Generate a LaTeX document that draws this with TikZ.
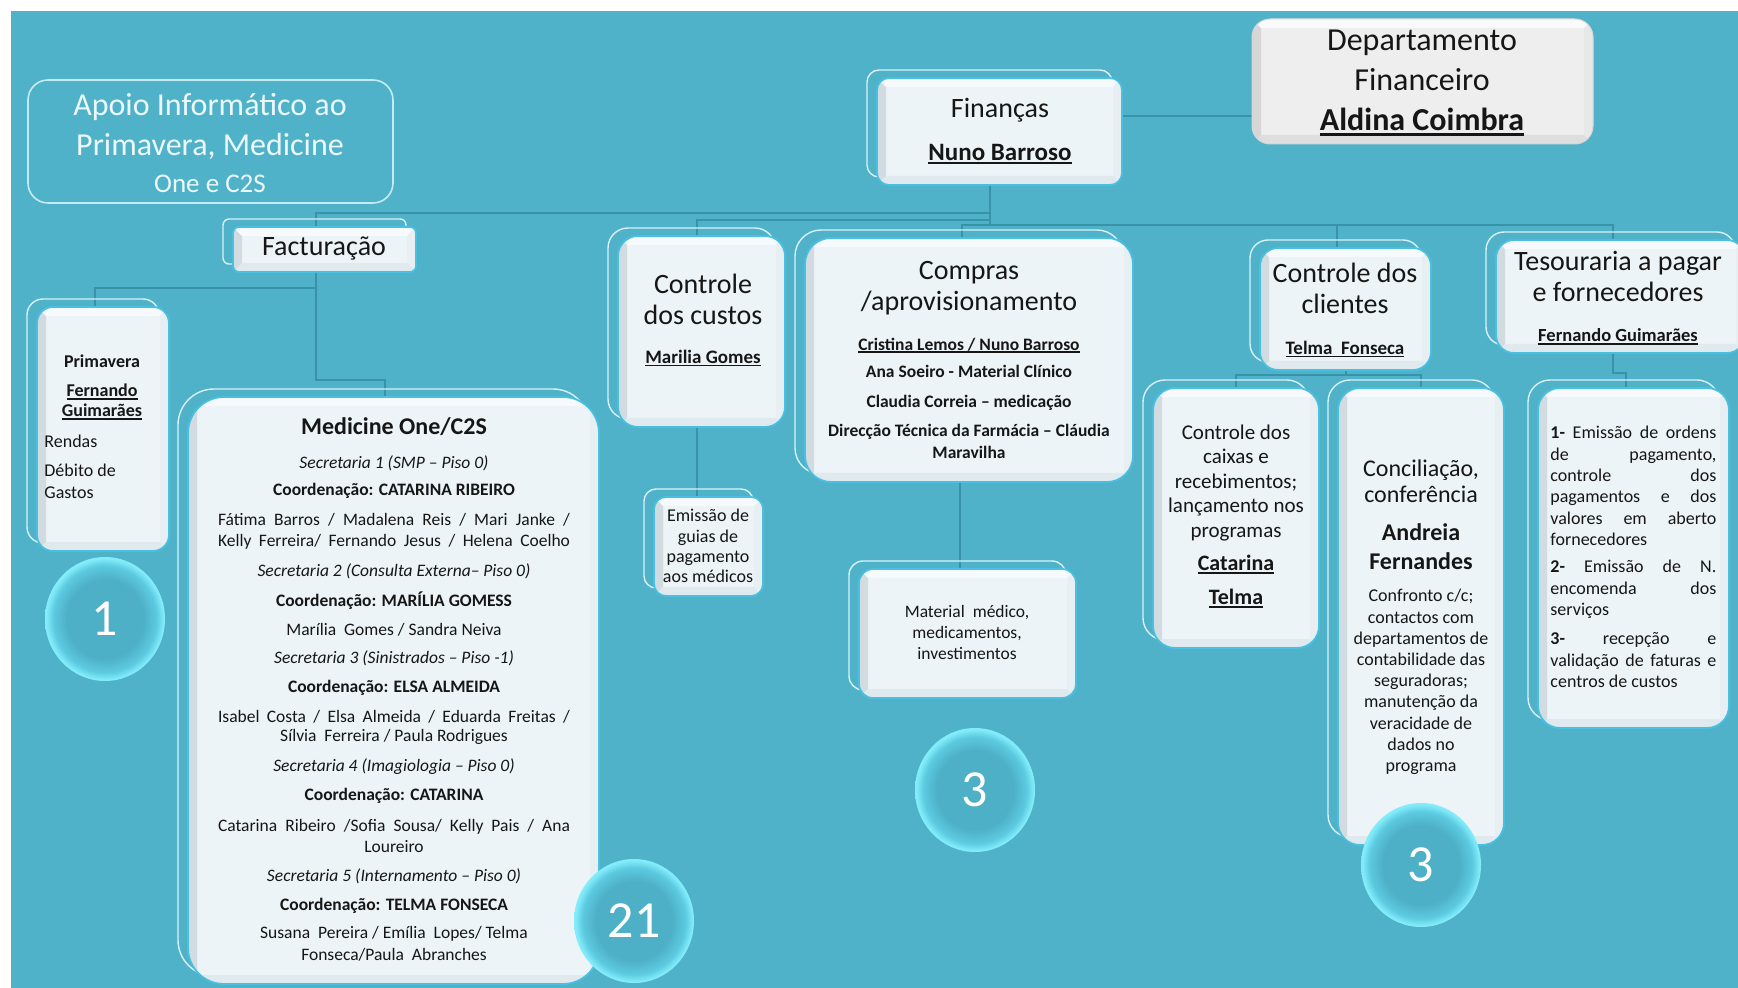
\documentclass[tikz,border=0pt]{standalone}
\usepackage{fontspec}
\setmainfont{Carlito}
\usetikzlibrary{fit,shapes.geometric}

\definecolor{bgteal}{RGB}{80,178,200}
\definecolor{connc}{RGB}{56,146,168}
\definecolor{backln}{RGB}{215,241,248}
\definecolor{boxin}{RGB}{236,244,247}
\definecolor{bevl}{RGB}{210,219,224}
\definecolor{bevt}{RGB}{246,250,252}
\definecolor{bevr}{RGB}{231,239,242}
\definecolor{bevb}{RGB}{224,233,237}
\definecolor{edgec}{RGB}{72,192,226}
\definecolor{ink}{RGB}{22,22,22}
\definecolor{apoiotxt}{RGB}{236,248,251}
\definecolor{apoioln}{RGB}{196,236,245}
\definecolor{bubin}{RGB}{78,176,198}
\definecolor{bubmid}{RGB}{92,202,224}
\definecolor{bubout}{RGB}{130,236,250}
\definecolor{dgin}{RGB}{238,238,238}
\definecolor{dgl}{RGB}{214,214,214}
\definecolor{dgt}{RGB}{250,250,250}
\definecolor{dgr}{RGB}{232,232,232}
\definecolor{dgb}{RGB}{222,222,222}

% glassy bubble: the path is mapped onto the inner 25bp radius of the shading
\pgfdeclareradialshading{bubble}{\pgfpoint{0bp}{0bp}}{color(0bp)=(bubin); color(16bp)=(bubin); color(21.5bp)=(bubmid); color(24.5bp)=(bubout); color(25bp)=(bubout); color(50bp)=(bubout)}

\pgfdeclarelayer{bglayer}
\pgfdeclarelayer{connlayer}
\pgfsetlayers{bglayer,connlayer,main}

% bevel width, underline, justified lines, heading font
\newcommand\bvw{4.5pt}
\newcommand\ulx[1]{\leavevmode\setbox0\hbox{#1}\rlap{\rule[-0.16em]{\wd0}{0.085em}}\box0}
\newcommand\jl[1]{\makebox[83pt][s]{#1}}
\newcommand\sline[1]{\makebox[176pt][s]{#1}}
\newcommand\hfont{\fontsize{14}{15.5}\selectfont}

% a box with its offset outline behind it: name, x1, y1, x2, y2, radius, extra
\newcommand\obox[7]{%
  \draw[backline, rounded corners=#6] (#2-10,#3-8) rectangle (#4-10,#5-8);
  \node[mainbox, rounded corners=#6, fit={(#2,#3) (#4,#5)}, #7] (#1) {};
}

\begin{document}
\begin{tikzpicture}[x=0.5pt,y=-0.5pt,
  conn/.style={draw=connc, line width=1pt},
  backline/.style={draw=backln, line width=0.7pt},
  bevel/.style n args={4}{path picture={
    \fill[#1, sharp corners] (path picture bounding box.north west) -- (path picture bounding box.south west) -- ([xshift=\bvw,yshift=\bvw]path picture bounding box.south west) -- ([xshift=\bvw,yshift=-\bvw]path picture bounding box.north west) -- cycle;
    \fill[#2, sharp corners] (path picture bounding box.north west) -- (path picture bounding box.north east) -- ([xshift=-\bvw,yshift=-\bvw]path picture bounding box.north east) -- ([xshift=\bvw,yshift=-\bvw]path picture bounding box.north west) -- cycle;
    \fill[#3, sharp corners] (path picture bounding box.north east) -- (path picture bounding box.south east) -- ([xshift=-\bvw,yshift=\bvw]path picture bounding box.south east) -- ([xshift=-\bvw,yshift=-\bvw]path picture bounding box.north east) -- cycle;
    \fill[#4, sharp corners] (path picture bounding box.south west) -- (path picture bounding box.south east) -- ([xshift=-\bvw,yshift=\bvw]path picture bounding box.south east) -- ([xshift=\bvw,yshift=\bvw]path picture bounding box.south west) -- cycle;
  }},
  mainbox/.style={draw=edgec, line width=0.9pt, fill=boxin, inner sep=0pt, outer sep=0pt, bevel={bevl}{bevt}{bevr}{bevb}},
  deptbox/.style={draw=dgl, line width=0.5pt, fill=dgin, inner sep=0pt, outer sep=0pt, rounded corners=9pt, bevel={dgl}{dgt}{dgr}{dgb}},
  apoiobox/.style={draw=apoioln, line width=0.8pt, inner sep=0pt, outer sep=0pt, rounded corners=10pt},
  txt/.style={text=ink, align=center, inner sep=0pt},
  medln/.style={txt, font=\fontsize{8.75}{10.5}\selectfont},
  bubble/.style={ellipse, minimum width=60pt, minimum height=62pt, inner sep=0pt, shade, shading=bubble, text=white, font=\fontsize{26}{30}\selectfont},
]
\useasboundingbox (0,0) rectangle (1738,988);
\begin{pgfonlayer}{bglayer}
  \fill[white] (0,0) rectangle (1738,988);
  \fill[bgteal] (11,11) rectangle (1738,988);
\end{pgfonlayer}

% ---- boxes ----
\node[apoiobox, fit={(28,80) (393,203)}] (api) {};
\node[deptbox, fit={(1252,19) (1593,144)}] (dep) {};
\obox{fin}{877}{78}{1122}{185}{6pt}{}
\obox{fac}{233}{227}{416}{272}{3pt}{}
\obox{prim}{37}{307}{169}{551}{8pt}{}
\obox{med}{188}{397}{599}{984}{18pt}{}
\obox{cus}{618}{236}{785}{427}{10pt}{}
\obox{emi}{654}{497}{763}{596}{6pt}{}
\obox{com}{805}{238}{1133}{482}{13pt}{}
\obox{mat}{859}{569}{1076}{698}{7pt}{}
\obox{cli}{1260}{248}{1431}{370}{9pt}{}
\obox{tes}{1496}{240}{1745}{353}{9pt}{}
\obox{cai}{1153}{388}{1319}{648}{11pt}{}
\obox{con}{1338}{388}{1504}{845}{11pt}{}
\obox{emo}{1538}{388}{1729}{728}{11pt}{}

% ---- connectors ----
\begin{pgfonlayer}{connlayer}
  \draw[conn] ([yshift=7.75pt]fin.east) -- ([yshift=7.75pt]fin.east -| dep.west);
  \coordinate (tk) at ([xshift=-5pt]fin.south);
  \draw[conn] (tk) -- (tk |- 0,225);
  \draw[conn] (tk |- 0,213) -| ([xshift=-4.5pt]fac.north);
  \draw[conn] (tk |- 0,220) -| ([xshift=-2.5pt]cus.north);
  \draw[conn] (tk |- 0,225) -| ([xshift=-3.5pt]com.north);
  \draw[conn] (tk |- 0,225) -| ([xshift=-4.5pt]cli.north);
  \draw[conn] (tk |- 0,225) -| ([xshift=-4pt]tes.north);
  \coordinate (fs) at ([xshift=-4.5pt]fac.south);
  \draw[conn] (fs) -- (fs |- 0,380) -| ([xshift=-4.5pt]med.north);
  \draw[conn] (fs |- 0,288) -| ([xshift=-4pt]prim.north);
  \coordinate (cs) at ([xshift=-2.5pt]cus.south);
  \draw[conn] (cs) -- (cs |- emi.north);
  \coordinate (ms) at ([xshift=-4.5pt]com.south);
  \draw[conn] (ms) -- (ms |- mat.north);
  \draw[conn] (cli.south) -- (cli.south |- 0,375);
  \draw[conn] (cai.north) -- (cai.north |- 0,375) -- (con.north |- 0,375) -- (con.north);
  \coordinate (ts) at ([xshift=-4pt]tes.south);
  \draw[conn] (ts) -- (ts |- 0,373) -| ([xshift=-4pt]emo.north);
\end{pgfonlayer}

% ---- texts ----
\node[txt, text=apoiotxt, font=\fontsize{16}{20}\selectfont] (api-t) at (210,143) {Apoio Informático ao\\Primavera, Medicine\\[-1.5pt]{\fontsize{13.5}{16}\selectfont One e C2S}};
\node[txt, font=\fontsize{16}{20}\selectfont] (dep-t) at (1422,83) {Departamento\\Financeiro\\\textbf{\ulx{Aldina Coimbra}}};
\node[txt, font=\hfont] (fin-t) at (1000,131) {Finanças\\[6pt]{\fontsize{12.5}{15}\selectfont\bfseries\ulx{Nuno Barroso}}};
\node[txt, font=\hfont] (fac-t) at (324,249) {Facturação};

\node[txt, font=\fontsize{9}{10}\selectfont\bfseries] (prim-a) at (102,361) {Primavera};
\node[txt, font=\fontsize{9}{10}\selectfont\bfseries] (prim-b) at (102,402) {\ulx{Fernando}\\\ulx{Guimarães}};
\node[txt, align=left, anchor=west, font=\fontsize{9}{11}\selectfont] (prim-c) at (44,467) {Rendas\\[3.5pt]Débito de\\Gastos};

\node[txt, font=\fontsize{12}{14}\selectfont\bfseries] (m0) at (394,427) {Medicine One/C2S};
\node[medln] (m1) at (394,463) {\itshape Secretaria 1 (SMP – Piso 0)};
\node[medln] (m2) at (394,491) {\bfseries Coordenação: CATARINA RIBEIRO};
\node[medln] (m3) at (394,520) {\sline{Fátima Barros / Madalena Reis / Mari Janke /}};
\node[medln] (m4) at (394,542) {\sline{Kelly Ferreira/ Fernando Jesus / Helena Coelho}};
\node[medln] (m5) at (394,571) {\itshape Secretaria 2 (Consulta Externa– Piso 0)};
\node[medln] (m6) at (394,601) {\bfseries Coordenação: MARÍLIA GOMESS};
\node[medln] (m7) at (394,630) {Marília\ \ Gomes / Sandra Neiva};
\node[medln] (m8) at (394,658) {\itshape Secretaria 3 (Sinistrados – Piso -1)};
\node[medln] (m9) at (394,688) {\bfseries Coordenação: ELSA ALMEIDA};
\node[medln] (m10) at (394,717) {\sline{Isabel Costa / Elsa Almeida / Eduarda Freitas /}};
\node[medln] (m11) at (394,737) {Sílvia\ \ Ferreira / Paula Rodrigues};
\node[medln] (m12) at (394,767) {\itshape Secretaria 4 (Imagiologia – Piso 0)};
\node[medln] (m13) at (394,796) {\bfseries Coordenação: CATARINA};
\node[medln] (m14) at (394,827) {\sline{Catarina Ribeiro /Sofia Sousa/ Kelly Pais / Ana}};
\node[medln] (m15) at (394,847) {Loureiro};
\node[medln] (m16) at (394,876) {\itshape Secretaria 5 (Internamento – Piso 0)};
\node[medln] (m17) at (394,906) {\bfseries Coordenação: TELMA FONSECA};
\node[medln] (m18) at (394,934) {Susana\ \ Pereira / Emília\ \ Lopes/ Telma};
\node[medln] (m19) at (394,955) {Fonseca/Paula\ \ Abranches};

\node[txt, font=\hfont] (cus-t) at (703,320) {Controle\\dos custos\\[4pt]{\fontsize{9.5}{11}\selectfont\bfseries\ulx{Marilia Gomes}}};
\node[txt, font=\fontsize{9}{10.15}\selectfont] (emi-t) at (708,546) {Emissão de\\guias de\\pagamento\\aos médicos};

\node[txt, font=\hfont] (com-h) at (969,288) {Compras\\/aprovisionamento};
\node[txt, font=\fontsize{8.75}{11}\selectfont\bfseries] (com-b) at (969,398) {\ulx{Cristina Lemos / Nuno Barroso}\\[2.5pt]Ana Soeiro - Material Clínico\\[4pt]Claudia Correia – medicação\\[3.5pt]Direcção Técnica da Farmácia – Cláudia\\Maravilha};
\node[txt, font=\fontsize{8.75}{10.5}\selectfont] (mat-t) at (967,632) {Material\ \ médico,\\medicamentos,\\investimentos};

\node[txt, font=\hfont] (cli-t) at (1345,310) {Controle dos\\clientes\\[5pt]{\fontsize{9.5}{11}\selectfont\bfseries\ulx{Telma\ \ Fonseca}}};
\node[txt, font=\hfont] (tes-t) at (1618,298) {Tesouraria a pagar\\e fornecedores\\[4.5pt]{\fontsize{9.25}{11}\selectfont\bfseries\ulx{Fernando Guimarães}}};

\node[txt, font=\fontsize{10.5}{12.25}\selectfont] (cai-t) at (1236,516) {Controle dos\\caixas e\\recebimentos;\\lançamento nos\\programas\\[4.25pt]{\fontsize{11}{12.25}\selectfont\bfseries\ulx{Catarina}}\\[4.75pt]{\fontsize{11}{12.25}\selectfont\bfseries\ulx{Telma}}};

\node[txt, font=\fontsize{12}{13}\selectfont] (con-a) at (1421,481) {Conciliação,\\conferência};
\node[txt, font=\fontsize{12}{14.5}\selectfont\bfseries] (con-b) at (1421,547) {Andreia\\Fernandes};
\node[txt, font=\fontsize{9}{10.6}\selectfont] (con-c) at (1421,682) {Confronto c/c;\\contactos com\\departamentos de\\contabilidade das\\seguradoras;\\manutenção da\\veracidade de\\dados no\\programa};

\node[txt, align=left, anchor=west, font=\fontsize{9}{10.7}\selectfont] (emo-t) at (1550,557) {\jl{\textbf{1-} Emissão de ordens}\\\jl{de pagamento,}\\\jl{controle dos}\\\jl{pagamentos e dos}\\\jl{valores em aberto}\\fornecedores\\[2.8pt]\jl{\textbf{2-} Emissão de N.}\\\jl{encomenda dos}\\serviços\\[4pt]\jl{\textbf{3-} recepção e}\\\jl{validação de faturas e}\\centros de custos};

% ---- count bubbles ----
\node[bubble] (b1) at (105,619) {1};
\node[bubble] (b21) at (634,921) {21};
\node[bubble] (b3a) at (975,790) {3};
\node[bubble] (b3b) at (1421,865) {3};
\end{tikzpicture}
\end{document}
